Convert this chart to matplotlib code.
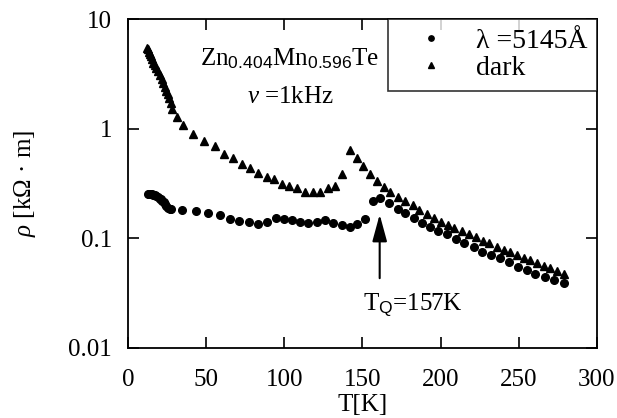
import matplotlib
matplotlib.use("Agg")
import matplotlib.pyplot as plt

plt.rcParams['font.family'] = ['Liberation Serif', 'DejaVu Serif']
plt.rcParams['mathtext.fontset'] = 'custom'
plt.rcParams['mathtext.rm'] = 'Liberation Serif'
plt.rcParams['mathtext.it'] = 'Liberation Serif:italic'
plt.rcParams['mathtext.sf'] = 'Liberation Sans'

# illuminated (lambda = 5145 A)
T_light = [12.8, 13.5, 14.3, 15.2, 16.0, 17.0, 18.0, 19.2, 20.2, 21.0, 21.8, 22.8, 23.7, 24.6, 25.6, 26.6, 27.6,
           34.6, 43.6, 51.3, 59.0, 65.4, 71.2, 77.6, 83.3, 89.1, 94.9, 100.0, 105.1, 110.3, 115.4, 121.2,
           126.3, 131.4, 137.2, 141.7, 146.8, 151.9, 157.0, 161.5, 166.7, 172.4, 176.9, 182.7, 187.8, 193.0,
           198.0, 203.8, 209.6, 214.7, 221.2, 226.3, 232.0, 237.8, 243.6, 249.4, 255.1, 260.3, 266.7, 272.4, 278.8]
rho_light = [0.256, 0.255, 0.254, 0.252, 0.251, 0.246, 0.241, 0.236, 0.230, 0.226, 0.221, 0.213, 0.204, 0.198, 0.191, 0.187, 0.184,
             0.18, 0.176, 0.172, 0.162, 0.149, 0.143, 0.140, 0.134, 0.140, 0.152, 0.149, 0.146, 0.140, 0.137, 0.140,
             0.146, 0.137, 0.131, 0.128, 0.134, 0.149, 0.217, 0.231, 0.208, 0.187, 0.169, 0.152, 0.137, 0.126,
             0.116, 0.109, 0.098, 0.090, 0.083, 0.0746, 0.070, 0.0658, 0.0605, 0.0545, 0.0512, 0.047, 0.0442, 0.0415, 0.039]

# dark
T_dark = [12.2, 12.8, 13.5, 14.1, 14.8, 15.5, 16.2, 17.0, 18.0, 19.2, 20.3, 21.5, 22.5, 23.5, 24.4, 25.3, 26.2, 27.2, 28.2,
          31.4, 35.3, 41.7, 48.7, 55.8, 61.5, 67.3, 73.1, 78.2, 83.3, 89.1, 93.6, 98.7, 103.2, 108.3, 113.5, 118.6,
          123.1, 128.2, 132.7, 137.2, 141.7, 146.2, 150.6, 154.5, 159.6, 163.5, 167.9, 172.4, 176.9, 182.0, 185.9,
          191.0, 195.5, 200.0, 204.5, 208.3, 213.5, 217.9, 222.4, 226.9, 230.8, 235.9, 240.4, 244.2, 248.7, 253.2,
          257.1, 261.5, 266.0, 269.9, 274.4, 278.8]
rho_dark = [5.45, 5.3, 5.0, 4.8, 4.6, 4.3, 4.0, 3.8, 3.6, 3.35, 3.1, 2.85, 2.6, 2.4, 2.2, 2.05, 1.9, 1.7, 1.52,
            1.29, 1.09, 0.90, 0.78, 0.69, 0.593, 0.545, 0.48, 0.44, 0.398, 0.366, 0.344, 0.316, 0.297, 0.285, 0.267, 0.262,
            0.267, 0.285, 0.303, 0.39, 0.644, 0.545, 0.452, 0.39, 0.33, 0.291, 0.262, 0.236, 0.217, 0.2, 0.18,
            0.165, 0.152, 0.14, 0.131, 0.123, 0.116, 0.109, 0.102, 0.094, 0.090, 0.083, 0.079, 0.0746, 0.070, 0.0658,
            0.063, 0.0593, 0.0556, 0.0533, 0.050, 0.047]

xticks = [0, 50, 100, 150, 200, 250, 300]
yticks = [0.01, 0.1, 1, 10]
ytick_labels = ['0.01', '0.1', '1', '10']
T_Q = 161  # arrow position on the plot

fig = plt.figure(figsize=(6.17, 4.18), dpi=100)
ax = fig.add_axes([0.2075, 0.1675, 0.760, 0.787])

ax.plot(T_light, rho_light, 'o', color='black', ms=5.5, label='λ =5145Å')
ax.plot(T_dark, rho_dark, '^', color='black', ms=5.5, label='dark')

ax.set_yscale('log')
ax.set_xlim(0, 300)
ax.set_ylim(0.01, 10)
ax.set_xticks(xticks)
ax.set_xticklabels([str(t) for t in xticks])
ax.set_yticks(yticks)
ax.set_yticklabels(ytick_labels)
ax.minorticks_off()
ax.tick_params(direction='in', length=8, width=1.2, labelsize=18, top=True, right=True)
ax.tick_params(axis='x', pad=15)
ax.tick_params(axis='y', pad=11.5)
for s in ax.spines.values():
    s.set_linewidth(1.3)

ax.set_xlabel('T[K]', fontsize=18, labelpad=2)
ax.set_ylabel('$\\rho$ [k$\\Omega$ · m]', fontsize=18, labelpad=22)

ax.text(46, 3.74, '$\\mathrm{Zn}_{\\mathsf{0.404}}\\mathrm{Mn}_{\\mathsf{0.596}}\\mathrm{Te}$', fontsize=18, va='baseline')
ax.text(76, 1.95, '$\\nu$ =1kHz', fontsize=18, va='center')

ax.annotate('', xy=(T_Q, 0.165), xytext=(T_Q, 0.0433),
            arrowprops=dict(arrowstyle='-|>,head_length=1.1,head_width=0.3', color='black', lw=1.5, mutation_scale=15,
                            shrinkA=0, shrinkB=0))
ax.text(150.5, 0.0221, 'T$_{\\mathsf{Q}}$=157K', fontsize=18, va='baseline')

leg = ax.legend(loc='upper right', bbox_to_anchor=(1.0, 1.0), borderaxespad=0, fontsize=20, frameon=True,
                fancybox=False, edgecolor='black', markerscale=0.7, handletextpad=0.4, handlelength=2.4,
                labelspacing=0.05, borderpad=0.35)
leg.get_frame().set_linewidth(1.2)

fig.savefig('out.png', dpi=100)
